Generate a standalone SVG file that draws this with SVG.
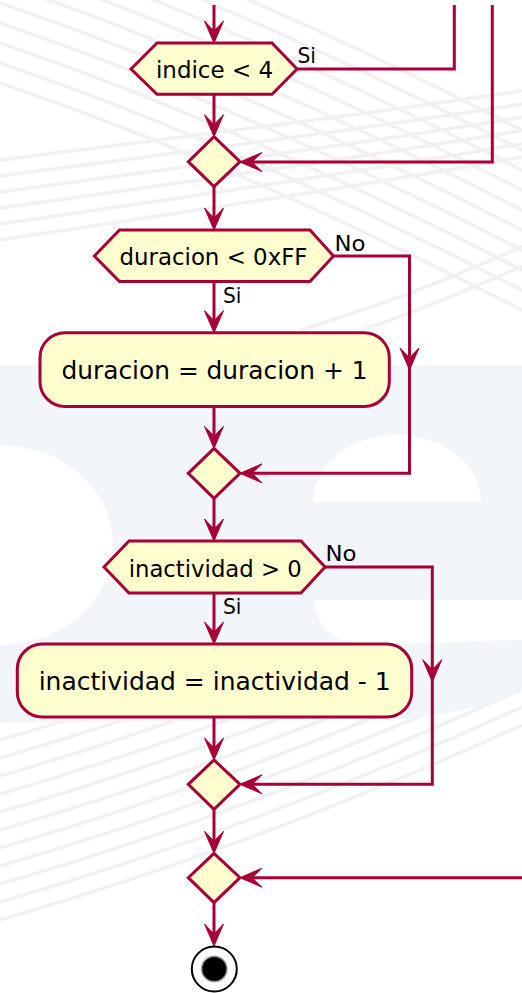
<svg xmlns="http://www.w3.org/2000/svg" width="522" height="993" viewBox="0 0 522 993">
<style>
.ln{fill:none;stroke:#A80036;stroke-width:3}
.nd{fill:#FEFECE;stroke:#A80036;stroke-width:3}
.ah{fill:#A80036;stroke:#A80036;stroke-width:1;stroke-linejoin:miter}
.t{font-family:"DejaVu Sans","Verdana",sans-serif;fill:#000}
.hx{font-size:23px}
.bx{font-size:25px}
.lb{font-size:22px}
.wl{fill:none;stroke:#F1F1F1;stroke-width:3.5}
</style>
<defs>
<path id="ah" d="M0,0 L-9.5,-22 L0,-12 L9.5,-22 Z"/>
</defs>
<rect width="522" height="993" fill="#FFFFFF"/>
<g id="watermark">
<path class="wl" d="M-40,-110 C150,-50 350,40 560,150"/>
<path class="wl" d="M-40,-90 C150,-30 350,60 560,170"/>
<path class="wl" d="M-40,-70 C150,-10 350,80 560,190"/>
<path class="wl" d="M-40,-50 C150,10 350,100 560,210"/>
<path class="wl" d="M-40,-30 C150,30 350,120 560,230"/>
<path class="wl" d="M-40,-10 C150,50 350,140 560,250"/>
<path class="wl" d="M-40,10 C150,70 350,160 560,270"/>
<path class="wl" d="M-40,30 C150,90 350,180 560,290"/>
<path class="wl" d="M-40,50 C150,110 350,200 560,310"/>
<path class="wl" d="M-40,70 C150,130 350,220 560,330"/>
<path class="wl" d="M0,160 C200,135 400,110 560,85"/>
<path class="wl" d="M0,176 C200,150 400,124 560,98"/>
<path class="wl" d="M0,192 C200,165 400,138 560,111"/>
<path class="wl" d="M0,208 C200,180 400,152 560,124"/>
<path class="wl" d="M0,224 C200,195 400,166 560,137"/>
<path class="wl" d="M0,240 C200,210 400,180 560,150"/>
<path class="wl" d="M300,330 C400,300 470,270 560,230"/>
<path class="wl" d="M320,345 C410,315 480,285 560,250"/>
<path class="wl" d="M0,740 Q260,665 522,545"/>
<path class="wl" d="M0,758 Q260,683 522,563"/>
<path class="wl" d="M0,776 Q260,701 522,581"/>
<path class="wl" d="M0,794 Q260,719 522,599"/>
<path class="wl" d="M0,812 Q260,737 522,617"/>
<path class="wl" d="M0,830 Q260,755 522,635"/>
<path class="wl" d="M0,848 Q260,773 522,653"/>
<path class="wl" d="M0,866 Q260,791 522,671"/>
<path class="wl" d="M0,884 Q260,809 522,689"/>
<path class="wl" d="M0,902 Q260,827 522,707"/>
<path class="wl" d="M0,920 Q260,845 522,725"/>
<path d="M0,365 L522,365 L522,690 Q480,712 400,718 L0,723 Z" fill="#F2F5F9"/>
<ellipse cx="0" cy="545" rx="113" ry="100" fill="#FFFFFF"/>
<path d="M313,502 A84,67 0 0 1 481,502 Z" fill="#FFFFFF"/>
<path d="M313,600 Q320,640 360,645 L522,640 L522,600 Z" fill="#FFFFFF"/>
</g>
<g id="connectors">
<path class="ln" d="M214,5 V40"/>
<use href="#ah" class="ah" transform="translate(214,43)"/>
<path class="ln" d="M214,94 V134"/>
<use href="#ah" class="ah" transform="translate(214,136.7)"/>
<path class="ln" d="M297,69 H454.3 V5"/>
<path class="ln" d="M492.3,5 V162 H243"/>
<use href="#ah" class="ah" transform="translate(240,162) rotate(90)"/>
<path class="ln" d="M214,186.7 V227"/>
<use href="#ah" class="ah" transform="translate(214,230)"/>
<path class="ln" d="M333.5,256 H409.5 V473.3 H243"/>
<use href="#ah" class="ah" transform="translate(409.5,370)"/>
<use href="#ah" class="ah" transform="translate(240,473.3) rotate(90)"/>
<path class="ln" d="M214,281.5 V330"/>
<use href="#ah" class="ah" transform="translate(214,332.7)"/>
<path class="ln" d="M214,406.5 V445"/>
<use href="#ah" class="ah" transform="translate(214,448.3)"/>
<path class="ln" d="M214,498.3 V538"/>
<use href="#ah" class="ah" transform="translate(214,541)"/>
<path class="ln" d="M325,567 H432.3 V784.3 H243"/>
<use href="#ah" class="ah" transform="translate(432.3,681.7)"/>
<use href="#ah" class="ah" transform="translate(240,784.3) rotate(90)"/>
<path class="ln" d="M214,593 V641"/>
<use href="#ah" class="ah" transform="translate(214,644)"/>
<path class="ln" d="M214,717 V757"/>
<use href="#ah" class="ah" transform="translate(214,760)"/>
<path class="ln" d="M214,809.3 V850"/>
<use href="#ah" class="ah" transform="translate(214,853.3)"/>
<path class="ln" d="M522,877.7 H243"/>
<use href="#ah" class="ah" transform="translate(240,877.7) rotate(90)"/>
<path class="ln" d="M214,902.7 V943"/>
<use href="#ah" class="ah" transform="translate(214,946)"/>
</g>
<g id="labels">
<text class="t lb" x="297.5" y="63.3" textLength="18.5" lengthAdjust="spacingAndGlyphs">Si</text>
<text class="t lb" x="334.5" y="250.7" textLength="31" lengthAdjust="spacingAndGlyphs">No</text>
<text class="t lb" x="223" y="303.3" textLength="18.5" lengthAdjust="spacingAndGlyphs">Si</text>
<text class="t lb" x="325.5" y="561" textLength="31" lengthAdjust="spacingAndGlyphs">No</text>
<text class="t lb" x="223" y="614.3" textLength="18.5" lengthAdjust="spacingAndGlyphs">Si</text>
</g>
<g id="cond-indice">
<polygon class="nd" points="131,69 157,43 272,43 297,69 272,94.3 157,94.3"/>
<text class="t hx" x="156" y="77.5" textLength="117" lengthAdjust="spacingAndGlyphs">indice &lt; 4</text>
</g>
<g id="merge-1">
<polygon class="nd" points="214,136.7 240,161.7 214,186.7 188.3,161.7"/>
</g>
<g id="cond-duracion">
<polygon class="nd" points="94.3,256 119.5,230 310,230 333.5,256 310,281.5 119.5,281.5"/>
<text class="t hx" x="119.5" y="265" textLength="188" lengthAdjust="spacingAndGlyphs">duracion &lt; 0xFF</text>
</g>
<g id="inc-duracion">
<rect class="nd" x="40" y="332.7" width="349.3" height="73.8" rx="25" ry="25"/>
<text class="t bx" x="61.5" y="379.3" textLength="306" lengthAdjust="spacingAndGlyphs">duracion = duracion + 1</text>
</g>
<g id="merge-2">
<polygon class="nd" points="214,448.3 240,473.3 214,498.3 188.3,473.3"/>
</g>
<g id="cond-inactividad">
<polygon class="nd" points="104,567 129,541 301,541 325,567 301,593 129,593"/>
<text class="t hx" x="128.7" y="576.7" textLength="173" lengthAdjust="spacingAndGlyphs">inactividad &gt; 0</text>
</g>
<g id="dec-inactividad">
<rect class="nd" x="17.3" y="644" width="394.4" height="73" rx="25" ry="25"/>
<text class="t bx" x="38.7" y="690" textLength="352" lengthAdjust="spacingAndGlyphs">inactividad = inactividad - 1</text>
</g>
<g id="merge-3">
<polygon class="nd" points="214,760 240,784.3 214,809.3 188.3,784.3"/>
</g>
<g id="merge-4">
<polygon class="nd" points="214,853.3 240,877.7 214,902.7 188.3,877.7"/>
</g>
<g id="end">
<circle cx="214.3" cy="969" r="22.5" fill="#FFFFFF" stroke="#000000" stroke-width="2"/>
<circle cx="214.3" cy="969" r="13.5" fill="#A0A0A0"/>
<circle cx="214.3" cy="969" r="12" fill="#000000"/>
</g>
</svg>
